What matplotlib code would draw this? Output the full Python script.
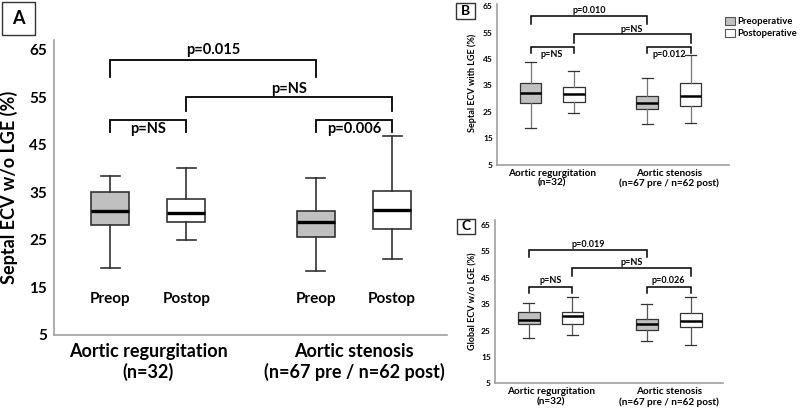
import matplotlib
matplotlib.use("Agg")
import matplotlib.pyplot as plt
from matplotlib.patches import Patch, Rectangle

plt.rcParams['font.family'] = ['Lato', 'DejaVu Sans']
plt.rcParams['font.weight'] = 'bold'

# --- data (box order: AR pre, AR post, AS pre, AS post) ---
groups = ["Aortic regurgitation\n(n=32)", "Aortic stenosis\n(n=67 pre / n=62 post)"]
phase_short = ["Preop", "Postop", "Preop", "Postop"]
legend_labels = ["Preoperative", "Postoperative"]

a_whislo = [19.0, 25.0, 18.4, 20.9]
a_q1 = [28.2, 28.8, 25.7, 27.3]
a_med = [31.0, 30.7, 28.7, 31.3]
a_q3 = [35.0, 33.5, 31.0, 35.2]
a_whishi = [38.4, 40.1, 38.1, 46.8]

b_whislo = [18.8, 24.7, 20.4, 20.6]
b_q1 = [28.2, 28.6, 25.9, 27.2]
b_med = [32.2, 31.9, 28.3, 31.1]
b_q3 = [35.8, 34.3, 31.1, 35.8]
b_whishi = [44.0, 40.3, 37.9, 46.5]

c_whislo = [22.3, 23.3, 21.2, 19.5]
c_q1 = [27.4, 27.4, 25.2, 26.4]
c_med = [28.9, 30.4, 27.5, 28.6]
c_q3 = [31.9, 31.9, 29.3, 31.6]
c_whishi = [35.6, 37.6, 35.0, 37.8]

# comparisons: (box i, box j, p label)
pairs = [(0, 2), (1, 3), (0, 1), (2, 3)]
a_p = ["p=0.015", "p=NS", "p=NS", "p=0.006"]
b_p = ["p=0.010", "p=NS", "p=NS", "p=0.012"]
c_p = ["p=0.019", "p=NS", "p=NS", "p=0.026"]

pos = [1, 2, 3.7, 4.7]
fills = ["#c0c0c0", "white", "#c0c0c0", "white"]
yticks = [5, 15, 25, 35, 45, 55, 65]

W, H = 800, 408
fig = plt.figure(figsize=(8, 4.08), dpi=100)


def px_axes(left, top, right, bottom):
    return fig.add_axes([left / W, 1 - bottom / H, (right - left) / W, (bottom - top) / H])


def draw_panel(ax, lo, q1, med, q3, hi, lw, wcol):
    stats = [dict(whislo=lo[i], q1=q1[i], med=med[i], q3=q3[i], whishi=hi[i], fliers=[])
             for i in range(4)]
    bp = ax.bxp(stats, positions=pos, widths=0.5, patch_artist=True, showfliers=False,
                boxprops=dict(edgecolor="#333333", linewidth=lw),
                medianprops=dict(color="black", linewidth=lw * 2),
                whiskerprops=dict(color=wcol, linewidth=lw),
                capprops=dict(color="#333333", linewidth=lw), capwidths=0.25)
    for b, f in zip(bp['boxes'], fills):
        b.set_facecolor(f)
    for s in ['top', 'right']:
        ax.spines[s].set_visible(False)
    for s in ['left', 'bottom']:
        ax.spines[s].set_color("#a0a0a0")
        ax.spines[s].set_linewidth(1.2)
    ax.set_yticks(yticks)
    ax.set_xticks([(pos[0] + pos[1]) / 2, (pos[2] + pos[3]) / 2])
    ax.set_xticklabels(groups)
    ax.tick_params(length=0)


def draw_brackets(ax, plabels, levels, drops, label_y, fs, lw):
    for (i, j), lab, y, d, ty in zip(pairs, plabels, levels, drops, label_y):
        x1, x2 = pos[i], pos[j]
        ax.plot([x1, x1, x2, x2], [y - d, y, y, y - d], color="black", lw=lw,
                solid_joinstyle='miter')
        ax.text((x1 + x2) / 2, ty, lab, ha='center', va='center', fontsize=fs,
                fontweight='bold')


# ---- Panel A ----
ax_a = px_axes(54, 40, 447, 335)
draw_panel(ax_a, a_whislo, a_q1, a_med, a_q3, a_whishi, 1.2, "#333333")
ax_a.set_xlim(0.265, 5.42)
ax_a.set_ylim(5, 67)
ax_a.tick_params(axis='y', labelsize=11, pad=5)
ax_a.tick_params(axis='x', labelsize=13, pad=6)
for t in ax_a.get_xticklabels():
    t.set_linespacing(1.15)
ax_a.set_ylabel("Septal ECV w/o LGE (%)", fontsize=13, fontweight='bold')
ax_a.yaxis.set_label_coords(-0.092, 0.5)
draw_brackets(ax_a, a_p, [62.7, 55.0, 50.1, 50.1], [3.4, 3.0, 2.4, 2.4],
              [65.0, 56.7, 48.3, 48.3], 10.5, 1.3)
for p, lab in zip(pos, phase_short):
    ax_a.text(p, 12.6, lab, ha='center', va='center', fontsize=11, fontweight='bold')

# ---- Panel B ----
ax_b = px_axes(497, 4, 729, 164.7)
draw_panel(ax_b, b_whislo, b_q1, b_med, b_q3, b_whishi, 0.9, "#777777")
ax_b.set_xlim(0.225, 5.59)
ax_b.set_ylim(5, 65.8)
ax_b.tick_params(axis='y', labelsize=6, pad=3)
ax_b.tick_params(axis='x', labelsize=7.2, pad=3)
for t in ax_b.get_xticklabels():
    t.set_linespacing(1.1)
ax_b.set_ylabel("Septal ECV with LGE (%)", fontsize=6.5, fontweight='bold')
ax_b.yaxis.set_label_coords(-0.086, 0.51)
draw_brackets(ax_b, b_p, [61.2, 54.3, 49.6, 49.6], [3.0, 3.2, 2.5, 2.5],
              [63.4, 56.2, 46.8, 46.8], 6.5, 1.1)
handles = [Patch(facecolor=fills[0], edgecolor="#555555", lw=0.8),
           Patch(facecolor=fills[1], edgecolor="#555555", lw=0.8)]
ax_b.legend(handles, legend_labels, loc='upper left', bbox_to_anchor=(725 / W, 1 - 17 / H),
            bbox_transform=fig.transFigure, frameon=False, fontsize=6.8,
            handlelength=1.1, handleheight=1.0, handletextpad=0.15, labelspacing=0.25,
            borderpad=0, borderaxespad=0)

# ---- Panel C ----
ax_c = px_axes(495, 220, 723, 383.3)
draw_panel(ax_c, c_whislo, c_q1, c_med, c_q3, c_whishi, 0.9, "#555555")
ax_c.set_xlim(0.23, 5.44)
ax_c.set_ylim(5, 66.9)
ax_c.tick_params(axis='y', labelsize=6, pad=3)
ax_c.tick_params(axis='x', labelsize=7.2, pad=3)
for t in ax_c.get_xticklabels():
    t.set_linespacing(1.1)
ax_c.set_ylabel("Global ECV w/o LGE (%)", fontsize=6.5, fontweight='bold')
ax_c.yaxis.set_label_coords(-0.079, 0.5)
draw_brackets(ax_c, c_p, [55.5, 48.6, 41.6, 41.6], [2.7, 2.8, 2.2, 2.2],
              [57.7, 50.8, 44.0, 44.0], 6.5, 1.1)

# ---- panel letters ----
for letter, (l, t, r, b), fs in [("A", (2, 2, 35, 35), 13), ("B", (456, 3, 475, 19), 10),
                                 ("C", (457, 219, 475, 234), 10)]:
    fig.add_artist(Rectangle((l / W, 1 - b / H), (r - l) / W, (b - t) / H,
                             transform=fig.transFigure, fill=False, edgecolor="#333333",
                             lw=1.0))
    fig.text((l + r) / 2 / W, 1 - (t + b) / 2 / H, letter, ha='center', va='center',
             fontsize=fs, fontweight='bold')

fig.savefig("out.png", dpi=100)
